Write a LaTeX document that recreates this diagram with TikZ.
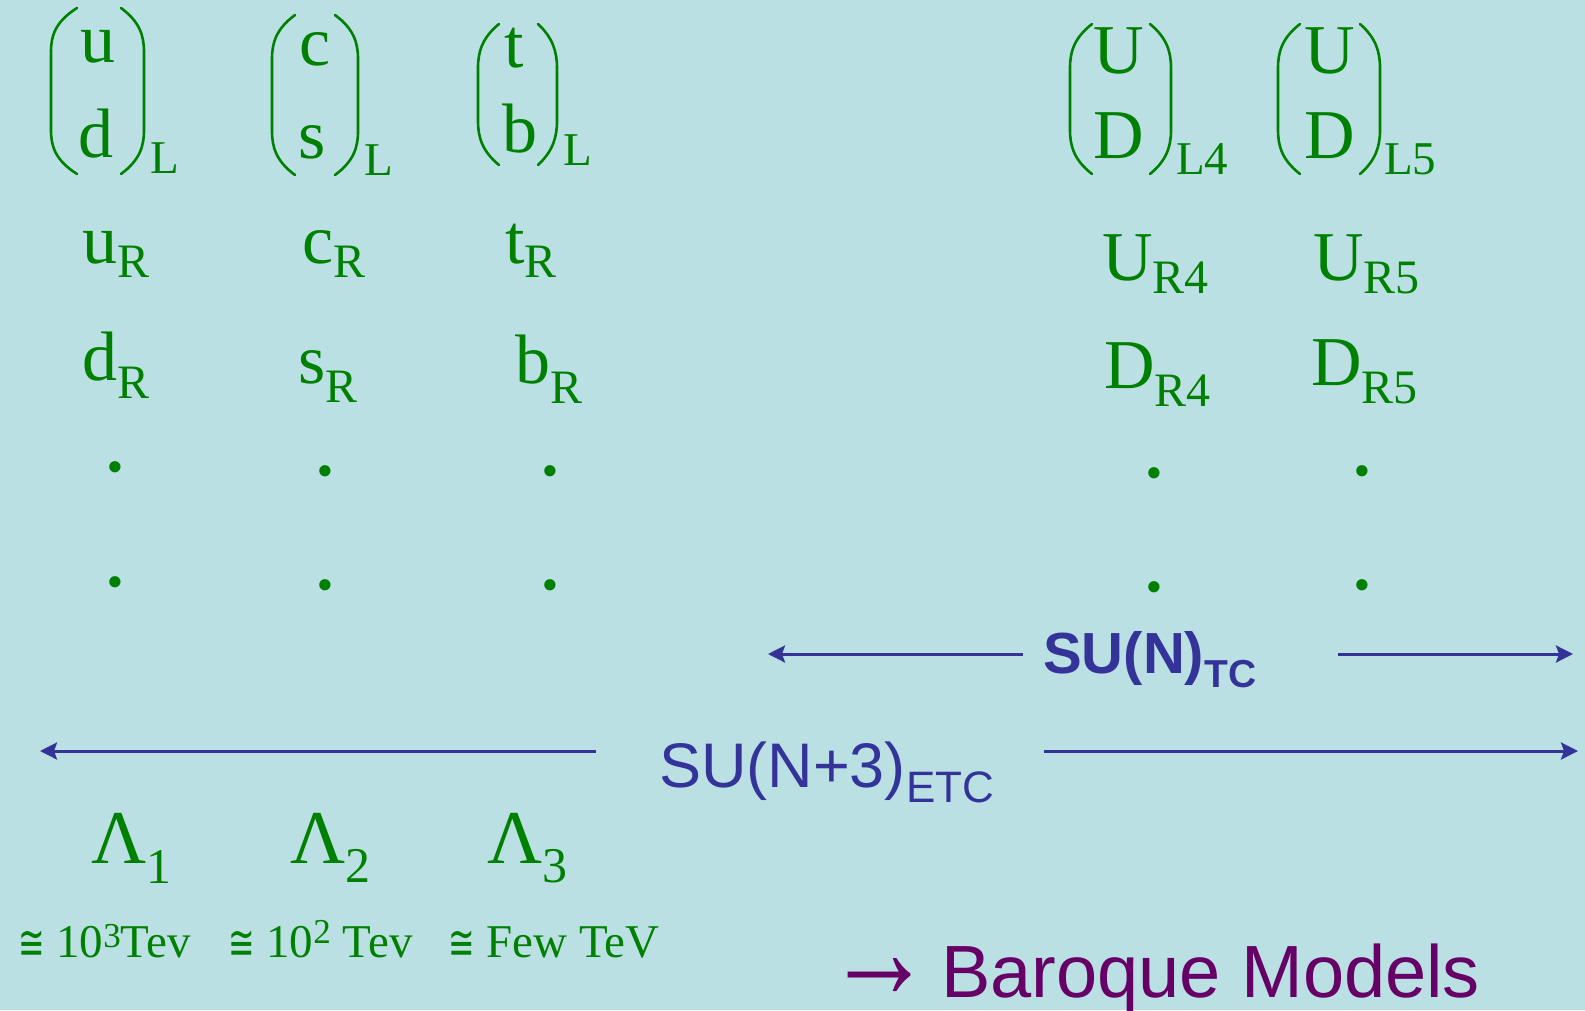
\documentclass[tikz,border=0pt]{standalone}
\usepackage{fontspec}
\usepackage{graphicx}
\setmainfont{Liberation Serif}
\newfontfamily\qarial{Liberation Sans}
\newfontfamily\qserif{Liberation Serif}
\newfontfamily\qdejavu{DejaVu Sans}
\usetikzlibrary{arrows.meta}
\definecolor{qbg}{HTML}{BBE0E3}
\definecolor{qgreen}{HTML}{008000}
\definecolor{qblue}{HTML}{333399}
\definecolor{qpurple}{HTML}{660066}
\newcommand\qfs[1]{\fontsize{#1}{#1}\selectfont}
\newcommand\qsub[3]{\raisebox{-#1pt}{\qfs{#2}#3}}
\newcommand\qsup[3]{\raisebox{#1pt}{\qfs{#2}#3}}
\newcommand\qcong{\raisebox{-2pt}{\qdejavu\qfs{48}\scalebox{0.66}[1]{≅}}}
% left paren: tip x, outer x, top y, bottom y
\newcommand\qlp[4]{\draw[paren] (#1,#3) .. controls (#2+4,#3+14) and (#2,#3+28) .. (#2,#3+44) -- (#2,#4-44) .. controls (#2,#4-28) and (#2+4,#4-14) .. (#1,#4);}
\newcommand\qrp[4]{\draw[paren] (#1,#3) .. controls (#2-4,#3+14) and (#2,#3+28) .. (#2,#3+44) -- (#2,#4-44) .. controls (#2,#4-28) and (#2-4,#4-14) .. (#1,#4);}
\begin{document}
\begin{tikzpicture}[x=1pt,y=-1pt,
  gt/.style={text=qgreen, inner sep=0pt, font=\qfs{70}},
  gtw/.style={gt, anchor=base west},
  gtc/.style={gt, anchor=base},
  gsub/.style={text=qgreen, inner sep=0pt, anchor=base west, font=\qfs{47}},
  gdot/.style={text=qgreen, inner sep=0pt, font=\qfs{95}},
  paren/.style={draw=qgreen, line width=2.6pt, line cap=round},
  barrow/.style={draw=qblue, line width=3pt, -{Stealth[length=17pt,width=17pt,inset=3pt]}},
  btext/.style={text=qblue, inner sep=0pt, anchor=base west},
]
\fill[qbg] (0,0) rectangle (1585,1010);
\useasboundingbox (0,0) rectangle (1585,1010);

% doublet 1
\qlp{77}{51}{8}{174}\qrp{121}{144}{8}{174}
\node[gtc] (u) at (98,62) {u};
\node[gtc] (d) at (96,157) {d};
\node[gsub] (L1) at (150,173) {L};
% doublet 2
\qlp{295}{272}{15}{175}\qrp{335}{358}{15}{175}
\node[gtc] (c) at (315,65) {c};
\node[gtc] (s) at (312,158) {s};
\node[gsub] (L2) at (364,175) {L};
% doublet 3
\qlp{499}{478}{24}{165}\qrp{538}{557}{24}{165}
\node[gtc] (t) at (514,67) {t};
\node[gtc] (b) at (520,152) {b};
\node[gsub] (L3) at (563,165) {L};
% doublet 4
\qlp{1092}{1070}{24}{174}\qrp{1150}{1171}{24}{174}
\node[gtc] (U4) at (1119,73) {U};
\node[gtc] (D4) at (1119,158) {D};
\node[gsub] (L4) at (1176,174) {L4};
% doublet 5
\qlp{1300}{1278}{24}{174}\qrp{1360}{1380}{24}{174}
\node[gtc] (U5) at (1330,73) {U};
\node[gtc] (D5) at (1330,158) {D};
\node[gsub] (L5) at (1384,174) {L5};

% right-handed row 1
\node[gtw] (uR) at (82,263) {u\qsub{14}{48}{R}};
\node[gtw] (cR) at (302,263) {c\qsub{14}{48}{R}};
\node[gtw] (tR) at (505,263) {t\qsub{14}{48}{R}};
\node[gtw] (UR4) at (1102,280) {U\qsub{13}{48}{R4}};
\node[gtw] (UR5) at (1313,280) {U\qsub{13}{48}{R5}};
% right-handed row 2
\node[gtw] (dR) at (82,380) {d\qsub{18}{48}{R}};
\node[gtw] (sR) at (298,383) {s\qsub{19}{48}{R}};
\node[gtw] (bR) at (515,383) {b\qsub{20}{48}{R}};
\node[gtw] (DR4) at (1104,388) {D\qsub{18}{48}{R4}};
\node[gtw] (DR5) at (1311,385) {D\qsub{18}{48}{R5}};

% dots
\node[gdot] (p11) at (115,467) {.};
\node[gdot] (p12) at (325,471) {.};
\node[gdot] (p13) at (550,471) {.};
\node[gdot] (p14) at (1154,473) {.};
\node[gdot] (p15) at (1362,471) {.};
\node[gdot] (p21) at (115,582) {.};
\node[gdot] (p22) at (325,585) {.};
\node[gdot] (p23) at (550,585) {.};
\node[gdot] (p24) at (1154,587) {.};
\node[gdot] (p25) at (1362,585) {.};

% SU(N)_TC
\node[btext, font=\qarial\bfseries\qfs{58}] (tc) at (1043,673) {SU(N)\qsub{14}{39}{TC}};
\coordinate (tcLa) at (1023,654);
\coordinate (tcLb) at (768,654);
\coordinate (tcRa) at (1338,654);
\coordinate (tcRb) at (1573,654);
\draw[barrow] (tcLa) -- (tcLb);
\draw[barrow] (tcRa) -- (tcRb);

% SU(N+3)_ETC
\node[btext, font=\qarial\qfs{63}] (etc) at (659,787) {SU(N+3)\qsub{15}{44}{ETC}};
\coordinate (etcLa) at (596,751);
\coordinate (etcLb) at (40,751);
\coordinate (etcRa) at (1044,751);
\coordinate (etcRb) at (1578,751);
\draw[barrow] (etcLa) -- (etcLb);
\draw[barrow] (etcRa) -- (etcRb);

% Lambdas
\node[gtw, font=\qfs{76}] (l1) at (91,863) {Λ\qsub{20}{50}{1}};
\node[gtw, font=\qfs{76}] (l2) at (290,863) {Λ\qsub{19}{50}{2}};
\node[gtw, font=\qfs{76}] (l3) at (487,863) {Λ\qsub{19}{50}{3}};

% energies
\node[gtw, font=\qfs{47}] (e1) at (18,957) {\qcong\ 10\qsup{10}{35}{3}Tev};
\node[gtw, font=\qfs{47}] (e2) at (228,957) {\qcong\ 10\qsup{14}{35}{2} Tev};
\node[gtw, font=\qfs{47}] (e3) at (448,957) {\qcong\ Few TeV};

% Baroque
\node[inner sep=0pt, anchor=base west, text=qpurple, font=\qarial\qfs{74}] (bm) at (826,997) {\makebox[115pt][l]{\raisebox{-1pt}{\resizebox{106pt}{40pt}{\qserif →}}}Baroque Models};
\end{tikzpicture}
\end{document}
